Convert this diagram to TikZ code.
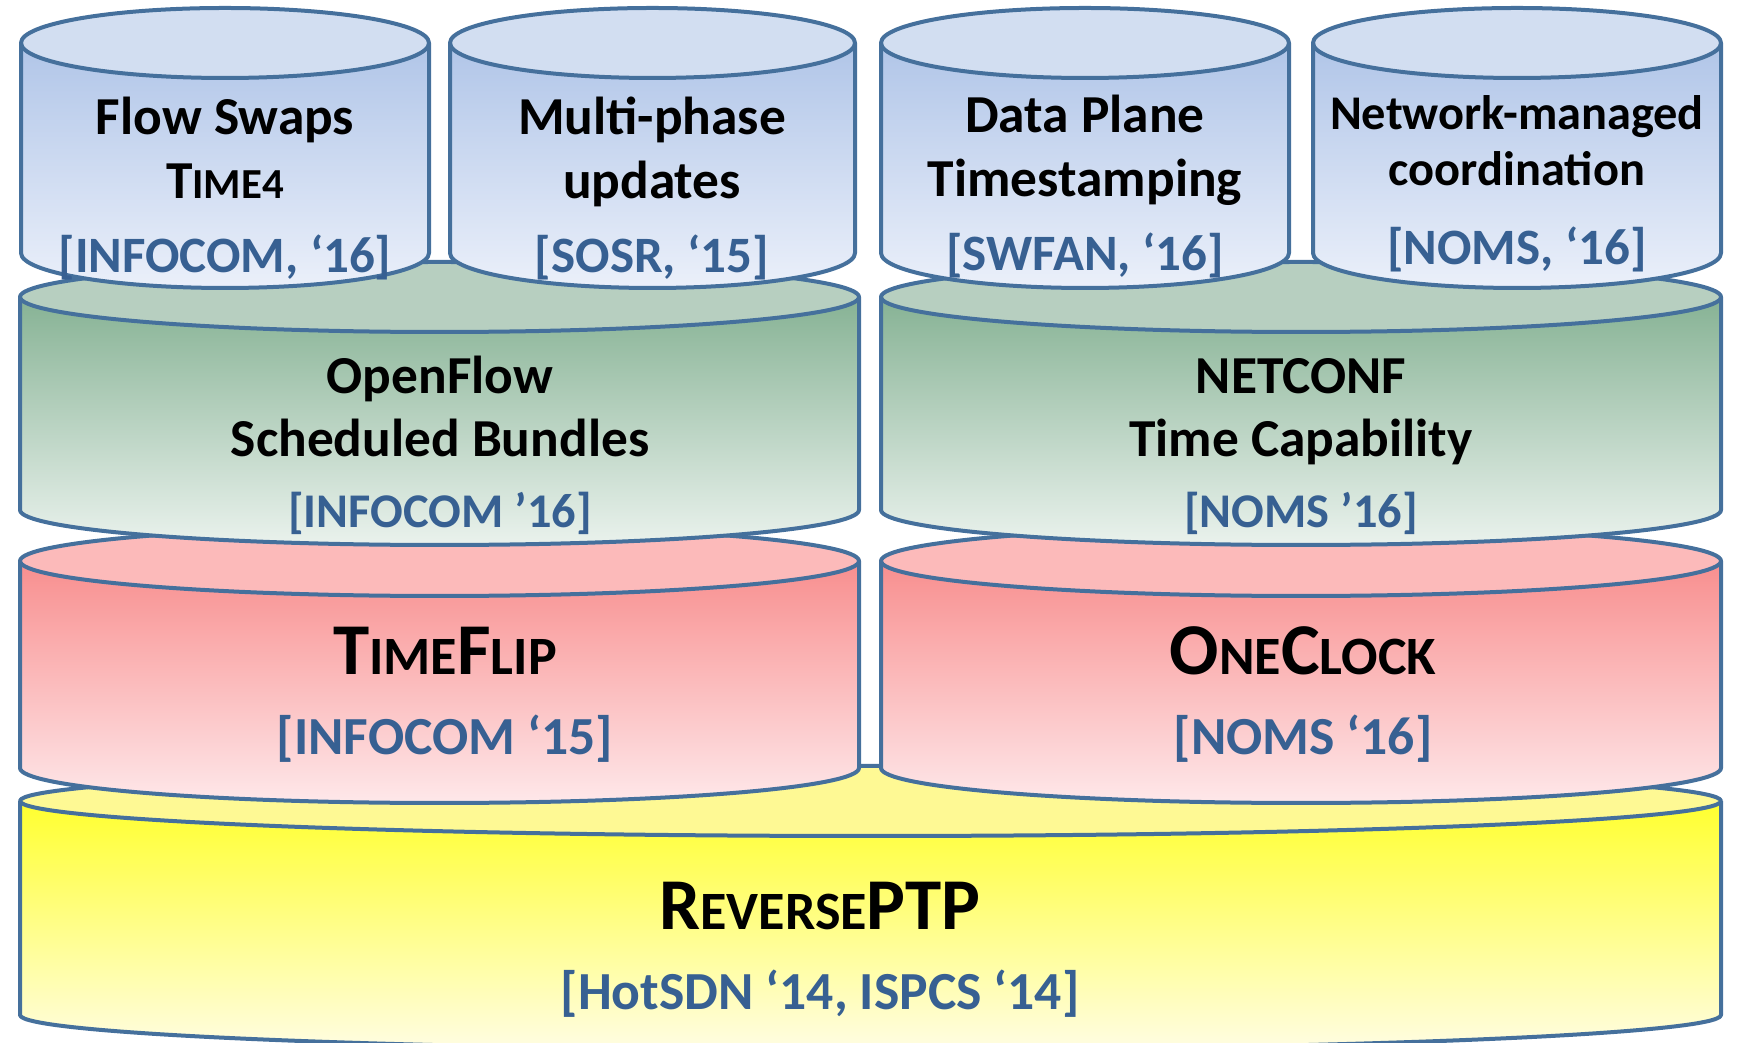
\documentclass[tikz,border=0pt]{standalone}
\usepackage{fontspec}
\setmainfont{Carlito}

% outline and fill colours
\definecolor{rimblue}{HTML}{45709C}
\definecolor{citeblue}{HTML}{376092}
\definecolor{bluetop}{HTML}{D2DEF1}
\definecolor{blueside}{HTML}{B0C5E8}
\definecolor{bluelow}{HTML}{EBF0FA}
\definecolor{greentop}{HTML}{B7CFC0}
\definecolor{greenside}{HTML}{86B294}
\definecolor{greenlow}{HTML}{EAF2ED}
\definecolor{redtop}{HTML}{FCBABA}
\definecolor{redside}{HTML}{F88E8E}
\definecolor{redlow}{HTML}{FEE8EA}
\definecolor{yellowtop}{HTML}{FEF994}
\definecolor{yellowside}{HTML}{FFFF2E}
\definecolor{yellowlow}{HTML}{FFFDE3}

% synthetic small capitals
\newcommand{\smallcapsN}[1]{{\fontsize{21.4}{26}\selectfont #1}}
\newcommand{\smallcapsB}[1]{{\fontsize{27}{33}\selectfont #1}}

% one cylinder: x-left, x-right, y of top face, y of bottom face, top face colour, side colours
\newcommand{\cylinderlayer}[7]{%
  \pgfmathsetmacro{\cxA}{(#1+#2)/2}%
  \pgfmathsetmacro{\rxA}{(#2-#1)/2}%
  \shade[top color=#6, bottom color=#7]
    (#1,#3) -- (#1,#4) arc[start angle=180, end angle=360, x radius=\rxA, y radius=35] -- (#2,#3) -- cycle;
  \fill[#5] (\cxA,#3) ellipse[x radius=\rxA, y radius=35];
  \draw[rim] (#1,#3) -- (#1,#4) arc[start angle=180, end angle=360, x radius=\rxA, y radius=35] -- (#2,#3);
  \draw[rim] (\cxA,#3) ellipse[x radius=\rxA, y radius=35];
}

\begin{document}
\begin{tikzpicture}[x=0.5pt, y=0.5pt,
  rim/.style={draw=rimblue, line width=2pt, line join=round},
  title/.style={anchor=base, inner sep=0pt, font=\bfseries\fontsize{26.7}{32}\selectfont},
  smalltitle/.style={anchor=base, inner sep=0pt, font=\bfseries\fontsize{24.2}{29}\selectfont},
  bigtitle/.style={anchor=base, inner sep=0pt, font=\bfseries\fontsize{36.5}{44}\selectfont},
  cite/.style={anchor=base, inner sep=0pt, text=citeblue, font=\bfseries\fontsize{25.5}{30}\selectfont},
  citesmall/.style={cite, font=\bfseries\fontsize{24.2}{29}\selectfont},
  citebig/.style={cite, font=\bfseries\fontsize{26.8}{32}\selectfont}]

\useasboundingbox (0,0) rectangle (1740,1043);

% bottom layer
\cylinderlayer{20}{1721}{242}{28}{yellowtop}{yellowside}{yellowlow}
% clock layer
\cylinderlayer{20}{859}{482}{275}{redtop}{redside}{redlow}
\cylinderlayer{881}{1721}{482}{275}{redtop}{redside}{redlow}
% protocol layer
\cylinderlayer{20}{859}{746}{533}{greentop}{greenside}{greenlow}
\cylinderlayer{881}{1721}{746}{533}{greentop}{greenside}{greenlow}
% applications
\cylinderlayer{21}{429}{1000}{790}{bluetop}{blueside}{bluelow}
\cylinderlayer{450}{855}{1000}{790}{bluetop}{blueside}{bluelow}
\cylinderlayer{881}{1289}{1000}{790}{bluetop}{blueside}{bluelow}
\cylinderlayer{1313}{1721}{1000}{790}{bluetop}{blueside}{bluelow}

% application labels
\node[title] (fs1) at (225,908) {Flow Swaps};
\node[title] (fs2) at (225,844) {T\smallcapsN{IME4}};
\node[cite]  (fs3) at (225,770) {[INFOCOM, ‘16]};

\node[title] (mp1) at (652,908) {Multi-phase};
\node[title] (mp2) at (652,844) {updates};
\node[cite]  (mp3) at (652,770) {[SOSR, ‘15]};

\node[title] (dp1) at (1085,910) {Data Plane};
\node[title] (dp2) at (1085,846) {Timestamping};
\node[cite]  (dp3) at (1085,772) {[SWFAN, ‘16]};

\node[smalltitle] (nm1) at (1517,913) {Network-managed};
\node[smalltitle] (nm2) at (1517,857) {coordination};
\node[cite]       (nm3) at (1517,778) {[NOMS, ‘16]};

% protocol labels
\node[title]     (of1) at (440,649) {OpenFlow};
\node[title]     (of2) at (440,586) {Scheduled Bundles};
\node[citesmall] (of3) at (440,515) {[INFOCOM ’16]};

\node[title]     (nc1) at (1301,649) {NETCONF};
\node[title]     (nc2) at (1301,586) {Time Capability};
\node[citesmall] (nc3) at (1301,515) {[NOMS ’16]};

% clock labels
\node[bigtitle] (tf1) at (445,368) {T\smallcapsB{IME}F\smallcapsB{LIP}};
\node[citebig]  (tf2) at (445,288) {[INFOCOM ‘15]};

\node[bigtitle] (oc1) at (1303,368) {O\smallcapsB{NE}C\smallcapsB{LOCK}};
\node[citebig]  (oc2) at (1303,288) {[NOMS ‘16]};

% base layer labels
\node[bigtitle] (rp1) at (820,113) {R\smallcapsB{EVERSE}PTP};
\node[citebig]  (rp2) at (820,33) {[HotSDN ‘14, ISPCS ‘14]};
\end{tikzpicture}
\end{document}
